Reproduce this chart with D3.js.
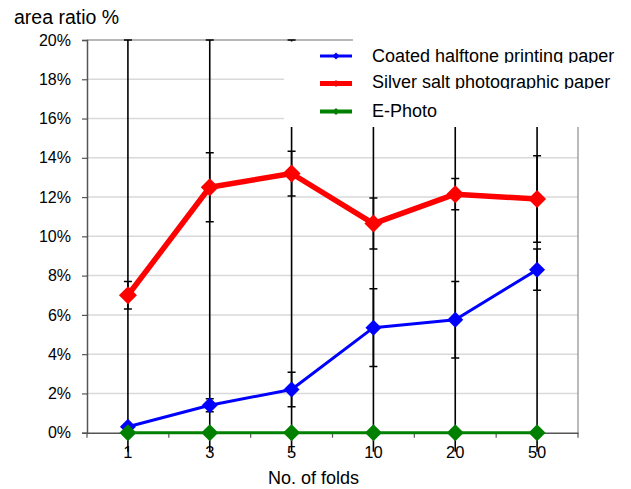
<!DOCTYPE html>
<html>
<head>
<meta charset="utf-8">
<script src="https://cdn.jsdelivr.net/npm/d3@7"></script>
<style>
  html, body { margin: 0; padding: 0; background: #fff; }
  svg { display: block; }
  text { font-family: "Liberation Sans", Arial, sans-serif; fill: #000; }
</style>
</head>
<body>
<svg id="chart" width="631" height="489"></svg>
<script>
// ---- data ----
const categories = ["1", "3", "5", "10", "20", "50"];
const coated     = [0.3, 1.4, 2.2, 5.35, 5.75, 8.3];
const coatedErr  = [0.15, 0.33, 0.88, 1.98, 1.95, 1.05];
const silver     = [7.0, 12.5, 13.2, 10.65, 12.15, 11.9];
const silverErr  = [0.7, 1.76, 1.14, 1.3, 0.8, 2.2];
const ephoto     = [0, 0, 0, 0, 0, 0];
const ephotoErr  = [20, 20, 20, 20, 20, 20];
const yTicks     = [0, 2, 4, 6, 8, 10, 12, 14, 16, 18, 20];
const seriesNames = ["Coated halftone printing paper", "Silver salt photographic paper", "E-Photo"];

const series = [
  { name: seriesNames[0], values: coated, err: coatedErr, color: "#0000ff", width: 3, r: 8 },
  { name: seriesNames[1], values: silver, err: silverErr, color: "#ff0000", width: 5.5, r: 9 },
  { name: seriesNames[2], values: ephoto, err: ephotoErr, color: "#008000", width: 3, r: 8.5 }
];

const svg = d3.select("#chart");
const L = 87, R = 578, T = 40, B = 432.7;

const x = d3.scaleBand().domain(categories).range([L, R]);
const y = d3.scaleLinear().domain([0, 20]).range([B, T]);
const cx = c => x(c) + x.bandwidth() / 2;

svg.append("defs").append("clipPath").attr("id", "plotClip")
  .append("rect").attr("x", L - 20).attr("y", T - 1).attr("width", R - L + 40).attr("height", B - T + 20);

// gridlines
svg.append("g").selectAll("line").data(yTicks.filter(d => d > 0)).join("line")
  .attr("x1", L).attr("x2", R).attr("y1", d => y(d)).attr("y2", d => y(d))
  .attr("stroke", "#d9d9d9").attr("stroke-width", 1.5);

// plot borders (top & right)
svg.append("line").attr("x1", L).attr("x2", R).attr("y1", T).attr("y2", T)
  .attr("stroke", "#8c8c8c").attr("stroke-width", 1.2);
svg.append("line").attr("x1", R).attr("x2", R).attr("y1", T).attr("y2", B)
  .attr("stroke", "#8c8c8c").attr("stroke-width", 1.2);

// y axis
const yAxis = svg.append("g").attr("transform", `translate(${L},0)`)
  .call(d3.axisLeft(y).tickValues(yTicks).tickFormat(d => d + "%").tickSize(5).tickPadding(11));
yAxis.select(".domain").attr("stroke", "#555").attr("stroke-width", 1.5);
yAxis.selectAll(".tick line").attr("stroke", "#555").attr("stroke-width", 1.2);
yAxis.selectAll("text").attr("font-size", 16).attr("font-family", "'Liberation Sans', Arial, sans-serif").attr("fill", "#000");

// x axis
const xAxis = svg.append("g").attr("transform", `translate(0,${B})`)
  .call(d3.axisBottom(x).tickSize(0).tickPadding(14));
xAxis.select(".domain").attr("stroke", "#555").attr("stroke-width", 1.5);
xAxis.selectAll("text").attr("font-size", 16.5).attr("font-family", "'Liberation Sans', Arial, sans-serif").attr("fill", "#000");
// boundary ticks
const bounds = categories.map(c => x(c)).concat([x(categories[categories.length - 1]) + x.bandwidth()]);
svg.append("g").selectAll("line").data(bounds).join("line")
  .attr("x1", d => d).attr("x2", d => d).attr("y1", B).attr("y2", B + 5)
  .attr("stroke", "#555").attr("stroke-width", 1.2);

// lines
const lineGen = d3.line().x((d, i) => cx(categories[i])).y(d => y(d));
series.forEach(s => {
  svg.append("path").datum(s.values).attr("d", lineGen)
    .attr("fill", "none").attr("stroke", s.color).attr("stroke-width", s.width)
    .attr("stroke-linejoin", "round");
});

// error bars
const eb = svg.append("g").attr("clip-path", "url(#plotClip)");
series.forEach(s => {
  s.values.forEach((v, i) => {
    const xc = cx(categories[i]);
    const top = Math.min(v + s.err[i], 20), bot = Math.max(v - s.err[i], 0);
    eb.append("line").attr("x1", xc).attr("x2", xc).attr("y1", y(top)).attr("y2", y(v - s.err[i]))
      .attr("stroke", "#000").attr("stroke-width", 1.6);
    [v + s.err[i], v - s.err[i]].forEach(e => {
      if (e >= 0) {
        eb.append("line").attr("x1", xc - 4).attr("x2", xc + 4).attr("y1", y(e)).attr("y2", y(e))
          .attr("stroke", "#000").attr("stroke-width", 1.5);
      }
    });
  });
});

// markers (diamonds)
series.forEach(s => {
  svg.append("g").selectAll("path").data(s.values).join("path")
    .attr("d", d => `M0,${-s.r}L${s.r},0L0,${s.r}L${-s.r},0Z`)
    .attr("transform", (d, i) => `translate(${cx(categories[i])},${y(d)})`)
    .attr("fill", s.color);
});

// axis titles
svg.append("text").attr("x", 14).attr("y", 23.5).attr("font-size", 19.5).text("area ratio %");
svg.append("text").attr("x", 313.5).attr("y", 484).attr("text-anchor", "middle").attr("font-size", 18).text("No. of folds");

// legend (white box covering plot)
svg.append("rect").attr("x", 284).attr("y", 41.5).attr("width", 347).attr("height", 85.5).attr("fill", "#fff");
svg.append("rect").attr("x", 353).attr("y", 30).attr("width", 278).attr("height", 14).attr("fill", "#fff");
const legY = [56, 83.5, 111.5];
const legBase = [62, 88, 116.5];
const defs = svg.select("defs");
series.forEach((s, i) => {
  const g = svg.append("g");
  g.append("line").attr("x1", 320).attr("x2", 352).attr("y1", legY[i]).attr("y2", legY[i])
    .attr("stroke", s.color).attr("stroke-width", i === 1 ? 5 : (i === 2 ? 4 : 3));
  g.append("path").attr("d", "M0,-3.5L3.5,0L0,3.5L-3.5,0Z")
    .attr("transform", `translate(336,${legY[i]})`).attr("fill", s.color);
  defs.append("clipPath").attr("id", "legClip" + i).append("rect")
    .attr("x", 360).attr("y", legBase[i] - 25).attr("width", 271).attr("height", 26);
  g.append("text").attr("x", 372).attr("y", legBase[i]).attr("font-size", 18)
    .attr("clip-path", `url(#legClip${i})`).text(s.name);
});
</script>
</body>
</html>
